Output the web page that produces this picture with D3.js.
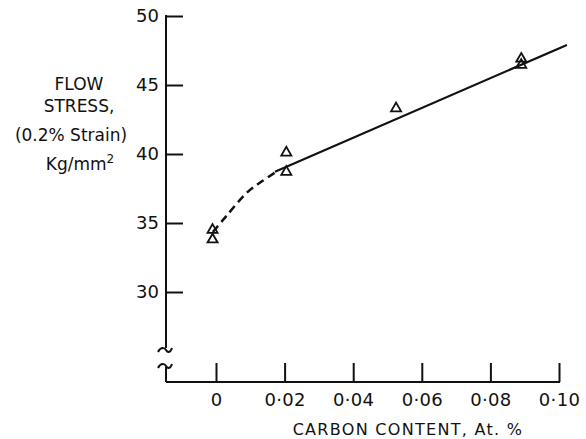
<!DOCTYPE html>
<html>
<head>
<meta charset="utf-8">
<script src="https://cdn.jsdelivr.net/npm/d3@7"></script>
<style>
  body { margin: 0; background: #fff; }
  text { font-family: "DejaVu Sans", sans-serif; fill: #111; }
</style>
</head>
<body>
<div id="chart"></div>
<script>
// data
const carbon = [-0.001, -0.001, 0.0205, 0.0205, 0.0525, 0.089, 0.089];
const stress = [34.5, 33.8, 40.1, 38.7, 43.3, 46.9, 46.45];

// solid fit line and dashed curve near the origin
const solidX = [0.0172, 0.1023];
const solidY = [38.72, 47.9];
const dashX = [-0.0009, 0.003, 0.009, 0.0133, 0.0175];
const dashY = [34.35, 35.5, 37.2, 38.0, 38.7];

const xTicks = [0, 0.02, 0.04, 0.06, 0.08, 0.10];
const xTickLabels = ["0", "0·02", "0·04", "0·06", "0·08", "0·10"];
const yTicks = [30, 35, 40, 45, 50];

const width = 586, height = 439;
const axisX = 166, baseY = 382;

const svg = d3.select("#chart")
    .append("svg")
    .attr("width", width)
    .attr("height", height);

const x = d3.scaleLinear().domain([0, 0.10]).range([216, 559]);
const y = d3.scaleLinear().domain([30, 50]).range([292, 16]);

// x axis: ticks pointing up
const xAxis = d3.axisBottom(x)
    .tickValues(xTicks)
    .tickFormat((d, i) => xTickLabels[i])
    .tickSize(-19)
    .tickPadding(11);
const gx = svg.append("g")
    .attr("transform", `translate(0,${baseY})`)
    .call(xAxis);
gx.select(".domain").remove();
gx.selectAll(".tick line").attr("stroke", "#111").attr("stroke-width", 2);
gx.selectAll(".tick text")
    .style("font-size", "18px")
    .style("letter-spacing", "0.3px")
    .attr("fill", "#111");

// baseline
svg.append("line")
    .attr("x1", axisX).attr("x2", x(0.10) + 1)
    .attr("y1", baseY).attr("y2", baseY)
    .attr("stroke", "#111").attr("stroke-width", 2);

// y axis: ticks pointing right
const yAxis = d3.axisLeft(y)
    .tickValues(yTicks)
    .tickSize(-17)
    .tickPadding(7);
const gy = svg.append("g")
    .attr("transform", `translate(${axisX},0)`)
    .call(yAxis);
gy.select(".domain").remove();
gy.selectAll(".tick line").attr("stroke", "#111").attr("stroke-width", 2);
gy.selectAll(".tick text")
    .style("font-size", "18px")
    .attr("fill", "#111");

// y axis line with break
const breakTop = baseY - 34, breakBot = baseY - 15;
svg.append("line")
    .attr("x1", axisX).attr("x2", axisX)
    .attr("y1", y(50) - 1).attr("y2", breakTop)
    .attr("stroke", "#111").attr("stroke-width", 2);
svg.append("line")
    .attr("x1", axisX).attr("x2", axisX)
    .attr("y1", breakBot).attr("y2", baseY)
    .attr("stroke", "#111").attr("stroke-width", 2);
const squiggle = (cy) => `M${axisX - 8},${cy + 2} C${axisX - 5},${cy - 4} ${axisX - 1},${cy - 2} ${axisX},${cy} S${axisX + 4},${cy + 4} ${axisX + 6},${cy - 2}`;
svg.append("path").attr("d", squiggle(breakTop + 2))
    .attr("fill", "none").attr("stroke", "#111").attr("stroke-width", 2);
svg.append("path").attr("d", squiggle(breakBot - 1))
    .attr("fill", "none").attr("stroke", "#111").attr("stroke-width", 2);

// dashed curve
const dashLine = d3.line()
    .x((d, i) => x(dashX[i]))
    .y((d, i) => y(dashY[i]))
    .curve(d3.curveCatmullRom);
svg.append("path")
    .attr("d", dashLine(dashX))
    .attr("fill", "none")
    .attr("stroke", "#111")
    .attr("stroke-width", 2.5)
    .attr("stroke-dasharray", "8,5");

// solid line
const solidLine = d3.line()
    .x((d, i) => x(solidX[i]))
    .y((d, i) => y(solidY[i]));
svg.append("path")
    .attr("d", solidLine(solidX))
    .attr("fill", "none")
    .attr("stroke", "#111")
    .attr("stroke-width", 2.2);

// triangles
const tri = d3.symbol().type(d3.symbolTriangle).size(44);
svg.append("g")
    .selectAll("path")
    .data(carbon)
    .join("path")
    .attr("d", tri)
    .attr("transform", (d, i) => `translate(${x(d)},${y(stress[i])})`)
    .attr("fill", "none")
    .attr("stroke", "#111")
    .attr("stroke-width", 1.8);

// y title
const yTitle = ["FLOW", "STRESS,", "(0.2% Strain)"];
const yTitleY = [90, 112, 141];
yTitle.forEach((t, i) => {
    svg.append("text")
        .attr("x", i === 2 ? 71 : 79)
        .attr("y", yTitleY[i])
        .attr("text-anchor", "middle")
        .style("font-size", "17px")
        .text(t);
});
const kg = svg.append("text")
    .attr("x", 80).attr("y", 170)
    .attr("text-anchor", "middle")
    .style("font-size", "17px");
kg.append("tspan").text("Kg/mm");
kg.append("tspan").attr("dy", -7).style("font-size", "12px").text("2");

// x title
svg.append("text")
    .attr("x", 408).attr("y", 435)
    .attr("text-anchor", "middle")
    .style("font-size", "16px")
    .style("letter-spacing", "1.3px")
    .text("CARBON CONTENT, At. %");
</script>
</body>
</html>
